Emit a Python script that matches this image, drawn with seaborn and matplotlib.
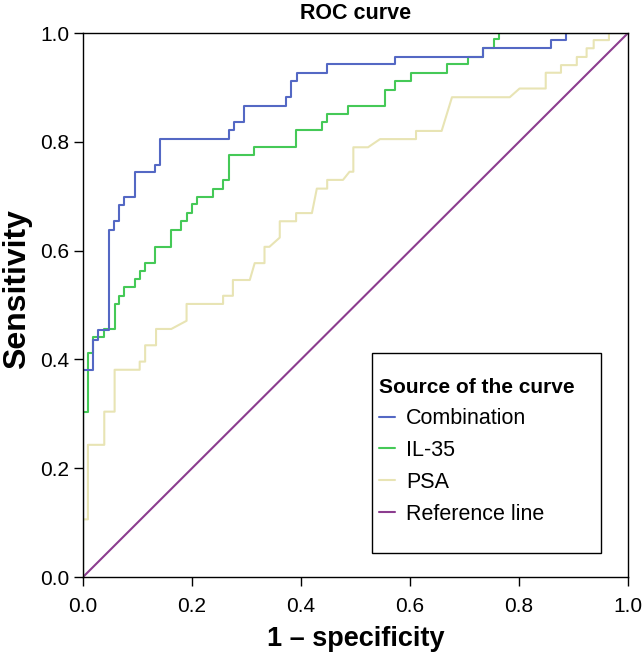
import numpy as np
import pandas as pd
import seaborn as sns
import matplotlib.pyplot as plt
from matplotlib.patches import Rectangle

# vertices of the step curves
combo_fpr = [0, 0, 0.019, 0.019, 0.027, 0.027, 0.047, 0.047, 0.056, 0.056, 0.066, 0.066,
             0.076, 0.076, 0.095, 0.095, 0.133, 0.133, 0.142, 0.142, 0.267, 0.267, 0.277, 0.277,
             0.295, 0.295, 0.372, 0.372, 0.381, 0.381, 0.392, 0.392, 0.448, 0.448, 0.572, 0.572,
             0.733, 0.733, 0.858, 0.858, 0.887, 0.887, 1.0]
combo_tpr = [0, 0.381, 0.381, 0.435, 0.435, 0.454, 0.454, 0.638, 0.638, 0.654, 0.654, 0.684,
             0.684, 0.699, 0.699, 0.744, 0.744, 0.757, 0.757, 0.806, 0.806, 0.822, 0.822, 0.837,
             0.837, 0.866, 0.866, 0.883, 0.883, 0.912, 0.912, 0.927, 0.927, 0.943, 0.943, 0.956,
             0.956, 0.973, 0.973, 0.987, 0.987, 1.0, 1.0]

il35_fpr = [0, 0, 0.009, 0.009, 0.018, 0.018, 0.038, 0.038, 0.058, 0.058, 0.066, 0.066,
            0.076, 0.076, 0.095, 0.095, 0.104, 0.104, 0.114, 0.114, 0.133, 0.133, 0.162, 0.162,
            0.180, 0.180, 0.190, 0.190, 0.200, 0.200, 0.210, 0.210, 0.238, 0.238, 0.257, 0.257,
            0.267, 0.267, 0.313, 0.313, 0.390, 0.390, 0.439, 0.439, 0.448, 0.448, 0.486, 0.486,
            0.554, 0.554, 0.572, 0.572, 0.601, 0.601, 0.667, 0.667, 0.706, 0.706, 0.733, 0.733,
            0.754, 0.754, 0.763, 0.763, 1.0]
il35_tpr = [0, 0.304, 0.304, 0.411, 0.411, 0.442, 0.442, 0.456, 0.456, 0.502, 0.502, 0.517,
            0.517, 0.533, 0.533, 0.548, 0.548, 0.563, 0.563, 0.578, 0.578, 0.607, 0.607, 0.638,
            0.638, 0.654, 0.654, 0.670, 0.670, 0.685, 0.685, 0.699, 0.699, 0.714, 0.714, 0.730,
            0.730, 0.776, 0.776, 0.791, 0.791, 0.822, 0.822, 0.837, 0.837, 0.851, 0.851, 0.866,
            0.866, 0.896, 0.896, 0.911, 0.911, 0.927, 0.927, 0.943, 0.943, 0.956, 0.956, 0.973,
            0.973, 0.989, 0.989, 1.0, 1.0]

psa_fpr = [0, 0, 0.009, 0.009, 0.039, 0.039, 0.058, 0.058, 0.104, 0.104, 0.114, 0.114,
           0.134, 0.134, 0.162, 0.190, 0.190, 0.257, 0.257, 0.275, 0.275, 0.306, 0.315, 0.333,
           0.333, 0.342, 0.361, 0.361, 0.391, 0.391, 0.420, 0.429, 0.448, 0.448, 0.477, 0.489,
           0.496, 0.496, 0.523, 0.545, 0.611, 0.611, 0.658, 0.677, 0.783, 0.801, 0.849, 0.849,
           0.877, 0.877, 0.906, 0.906, 0.924, 0.924, 0.937, 0.937, 0.965, 0.965, 1.0]
psa_tpr = [0, 0.106, 0.106, 0.243, 0.243, 0.304, 0.304, 0.381, 0.381, 0.396, 0.396, 0.426,
           0.426, 0.456, 0.456, 0.471, 0.502, 0.502, 0.517, 0.517, 0.546, 0.546, 0.577, 0.577,
           0.607, 0.607, 0.624, 0.654, 0.654, 0.669, 0.669, 0.714, 0.714, 0.730, 0.730, 0.745,
           0.745, 0.790, 0.790, 0.805, 0.805, 0.820, 0.820, 0.882, 0.882, 0.898, 0.898, 0.927,
           0.927, 0.941, 0.941, 0.956, 0.956, 0.972, 0.972, 0.987, 0.987, 1.0, 1.0]

ref_fpr = [0, 1]
ref_tpr = [0, 1]

curve_names = ["Combination", "IL-35", "PSA", "Reference line"]
curve_colors = ["#5468c4", "#45c957", "#e8e4b4", "#8c3d8f"]
ticks = [0.0, 0.2, 0.4, 0.6, 0.8, 1.0]

frames = []
for name, xs, ys in zip(curve_names,
                        [combo_fpr, il35_fpr, psa_fpr, ref_fpr],
                        [combo_tpr, il35_tpr, psa_tpr, ref_tpr]):
    frames.append(pd.DataFrame({"fpr": xs, "tpr": ys, "curve": name}))
df = pd.concat(frames, ignore_index=True)

sns.set_style("white")
plt.rcParams["font.family"] = ["Liberation Sans", "DejaVu Sans"]
plt.rcParams["text.color"] = "black"
plt.rcParams["axes.labelcolor"] = "black"
plt.rcParams["xtick.color"] = "black"
plt.rcParams["ytick.color"] = "black"

fig = plt.figure(figsize=(6.44, 6.54), dpi=100)
ax = fig.add_axes([0.1289, 0.1177, 0.8463, 0.8318])

# reference line first so it sits under the curves
draw_order = ["Reference line", "PSA", "IL-35", "Combination"]
palette = dict(zip(curve_names, curve_colors))
for name in draw_order:
    sub = df[df["curve"] == name]
    sns.lineplot(data=sub, x="fpr", y="tpr", color=palette[name], sort=False,
                 estimator=None, linewidth=1.5, ax=ax, label=name)

ax.set_xlim(0, 1)
ax.set_ylim(0, 1)
ax.set_xticks(ticks)
ax.set_yticks(ticks)
ax.set_xticklabels([f"{t:.1f}" for t in ticks])
ax.set_yticklabels([f"{t:.1f}" for t in ticks])
ax.tick_params(axis="both", direction="out", length=6.5, width=1, color="black",
               labelsize=15, bottom=True, left=True)
ax.tick_params(axis="x", pad=8)
ax.tick_params(axis="y", pad=3.5)
for sp in ax.spines.values():
    sp.set_color("black")
    sp.set_linewidth(1)

ax.set_title("ROC curve", fontsize=15.5, fontweight="bold", pad=10)
ax.set_xlabel("1 – specificity", fontsize=19.5, fontweight="bold", labelpad=7)
ax.set_ylabel("Sensitivity", fontsize=23, fontweight="bold")
ax.yaxis.set_label_coords(-0.094, 0.53)

# legend box drawn separately so the padding matches the SPSS layout
box = Rectangle((0.530, 0.044), 0.42, 0.368, transform=ax.transAxes,
                facecolor="white", edgecolor="black", linewidth=1, zorder=4)
ax.add_patch(box)

handles, labels = ax.get_legend_handles_labels()
order = [labels.index(n) for n in curve_names]
leg = ax.legend([handles[i] for i in order], [labels[i] for i in order],
                title="Source of the curve", loc="upper left",
                bbox_to_anchor=(0.543, 0.365), frameon=False,
                fontsize=15.5, title_fontproperties={"weight": "bold", "size": 15},
                borderpad=0, handlelength=0.75, handletextpad=0.5,
                labelspacing=0.5, borderaxespad=0)
leg._legend_box.align = "left"
leg.set_zorder(5)

fig.savefig("out.png", dpi=100)
